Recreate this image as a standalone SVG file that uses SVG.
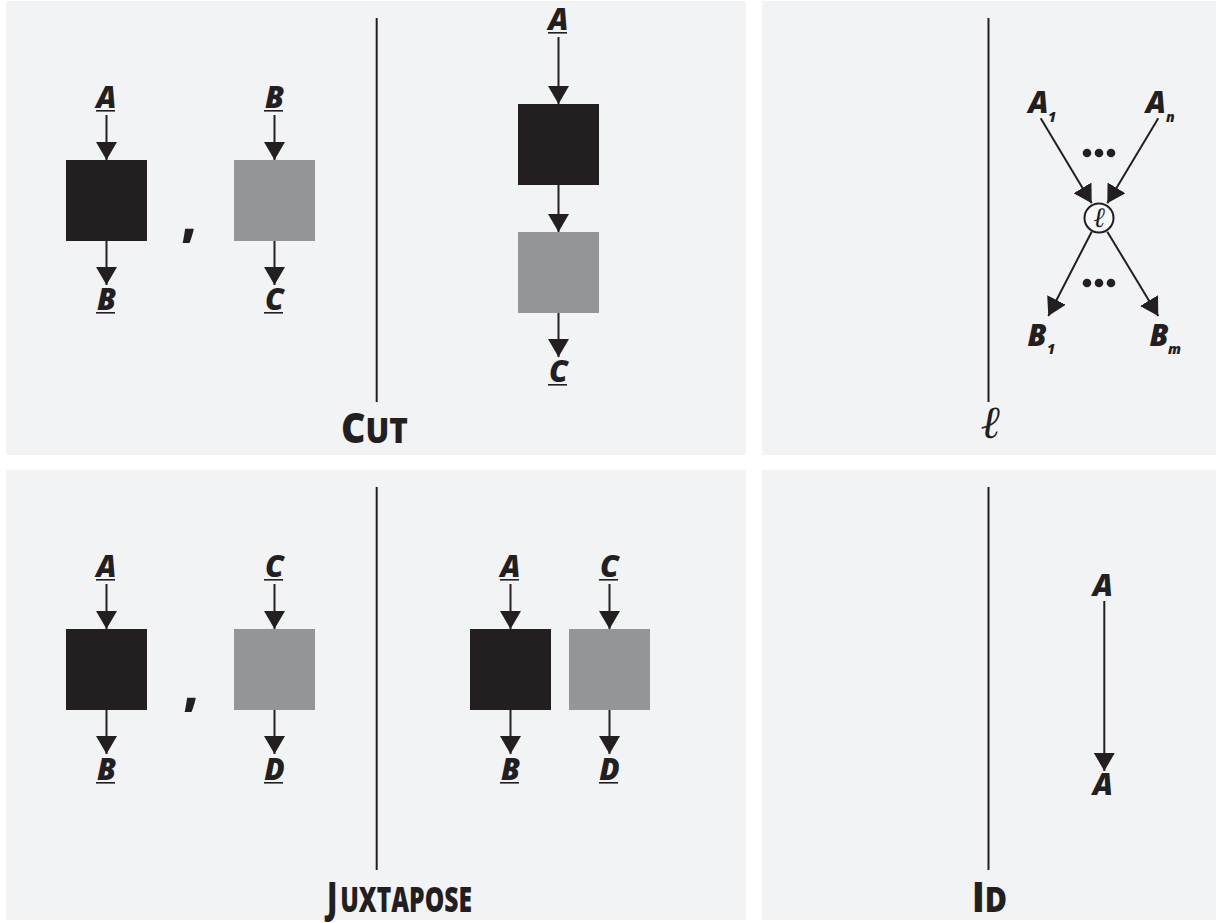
<svg xmlns="http://www.w3.org/2000/svg" width="1219" height="923" viewBox="0 0 1219 923">
  <style>
    .panel { fill: #f2f3f5; }
    .blk { fill: #231f20; }
    .gry { fill: #939598; }
    .wire { stroke: #231f20; stroke-width: 2; fill: none; }
    .rule { stroke: #231f20; stroke-width: 2; }
    .lbl { font-family: "Open Sans", "Liberation Sans", sans-serif; font-weight: 800; font-style: italic; font-size: 30px; fill: #231f20; text-anchor: middle; }
    .sub { font-family: "Open Sans", "Liberation Sans", sans-serif; font-weight: 800; font-style: italic; font-size: 14px; fill: #231f20; }
    .ttl { font-family: "Open Sans", "Liberation Sans", sans-serif; font-weight: 800; fill: #231f20; }
    .comma { font-family: "Open Sans", "Liberation Sans", sans-serif; font-weight: 800; font-size: 50px; fill: #231f20; text-anchor: middle; }
    .ell { font-family: "DejaVu Serif", "Liberation Serif", serif; font-style: italic; fill: #231f20; text-anchor: middle; }
  </style>
  <defs>
    <marker id="head" markerUnits="userSpaceOnUse" markerWidth="18" markerHeight="21" refX="18" refY="10.5" orient="auto" viewBox="0 0 18 21">
      <path d="M0,0 L18,10.5 L0,21 Z" fill="#231f20"/>
    </marker>
  </defs>

  <rect width="1219" height="923" fill="#ffffff"/>

  <!-- panel backgrounds -->
  <g id="panels">
    <rect class="panel" x="6" y="1" width="740" height="454"/>
    <rect class="panel" x="762" y="1" width="454" height="454"/>
    <rect class="panel" x="6" y="470" width="740" height="450"/>
    <rect class="panel" x="762" y="470" width="454" height="450"/>
  </g>

  <!-- dividing rules -->
  <g id="rules">
    <line class="rule" x1="376.7" y1="18" x2="376.7" y2="402"/>
    <line class="rule" x1="988.5" y1="18" x2="988.5" y2="402"/>
    <line class="rule" x1="376.7" y1="487" x2="376.7" y2="870"/>
    <line class="rule" x1="988.5" y1="487" x2="988.5" y2="870"/>
  </g>

  <!-- Cut: left side -->
  <g id="cut-f">
    <rect class="blk" x="66" y="160" width="81" height="81"/>
  </g>
  <g id="cut-g">
    <rect class="gry" x="234" y="160" width="81" height="81"/>
  </g>
  <g id="cut-comma"><text class="comma" x="189" y="236">,</text></g>

  <!-- Cut: composed -->
  <g id="cut-fg-f">
    <rect class="blk" x="518" y="104" width="81" height="81"/>
  </g>
  <g id="cut-fg-g">
    <rect class="gry" x="518" y="232" width="81" height="81"/>
  </g>

  <!-- Juxtapose: left side -->
  <g id="jux-f">
    <rect class="blk" x="66" y="629" width="81" height="81"/>
  </g>
  <g id="jux-g">
    <rect class="gry" x="234" y="629" width="81" height="81"/>
  </g>
  <g id="jux-comma"><text class="comma" x="191" y="705">,</text></g>

  <!-- Juxtapose: side by side -->
  <g id="jux-fg-f">
    <rect class="blk" x="470" y="629" width="81" height="81"/>
  </g>
  <g id="jux-fg-g">
    <rect class="gry" x="569" y="629" width="81" height="81"/>
  </g>

  <!-- link node -->
  <g id="link">
    <circle cx="1099" cy="218" r="14.5" fill="#f7f8f9" stroke="#231f20" stroke-width="2"/>
    <text class="ell" x="1099" y="227" font-size="28" fill="#555555">ℓ</text>
  </g>

  <!-- connectors -->
  <g id="connectors" marker-end="url(#head)">
    <!-- cut left -->
    <line class="wire" x1="106.5" y1="115" x2="106.5" y2="160"/>
    <line class="wire" x1="106.5" y1="241" x2="106.5" y2="285"/>
    <line class="wire" x1="274.5" y1="115" x2="274.5" y2="160"/>
    <line class="wire" x1="274.5" y1="241" x2="274.5" y2="285"/>
    <!-- cut composed -->
    <line class="wire" x1="558.5" y1="37" x2="558.5" y2="104"/>
    <line class="wire" x1="558.5" y1="185" x2="558.5" y2="232"/>
    <line class="wire" x1="558.5" y1="313" x2="558.5" y2="357"/>
    <!-- juxtapose left -->
    <line class="wire" x1="106.5" y1="584" x2="106.5" y2="629"/>
    <line class="wire" x1="106.5" y1="710" x2="106.5" y2="754"/>
    <line class="wire" x1="274.5" y1="584" x2="274.5" y2="629"/>
    <line class="wire" x1="274.5" y1="710" x2="274.5" y2="754"/>
    <!-- juxtapose right -->
    <line class="wire" x1="510.5" y1="584" x2="510.5" y2="629"/>
    <line class="wire" x1="510.5" y1="710" x2="510.5" y2="754"/>
    <line class="wire" x1="609.5" y1="584" x2="609.5" y2="629"/>
    <line class="wire" x1="609.5" y1="710" x2="609.5" y2="754"/>
    <!-- link -->
    <line class="wire" x1="1040.7" y1="118.3" x2="1091.7" y2="203.3"/>
    <line class="wire" x1="1158.3" y1="118.3" x2="1107.3" y2="203.3"/>
    <line class="wire" x1="1091.7" y1="231.7" x2="1048.3" y2="316"/>
    <line class="wire" x1="1107.3" y1="231.7" x2="1158.3" y2="316"/>
    <!-- identity -->
    <line class="wire" x1="1104.3" y1="601" x2="1104.3" y2="771"/>
  </g>

  <!-- labels -->
  <g id="labels">
    <!-- cut left -->
    <text class="lbl" x="106.5" y="108">A</text>
    <rect class="blk" x="96" y="110" width="19" height="1.6"/>
    <text class="lbl" x="106.5" y="310">B</text>
    <rect class="blk" x="96" y="312" width="19" height="1.6"/>
    <text class="lbl" x="274.5" y="108">B</text>
    <rect class="blk" x="264" y="110" width="19" height="1.6"/>
    <text class="lbl" x="274.5" y="310">C</text>
    <rect class="blk" x="264" y="312" width="19" height="1.6"/>
    <!-- cut composed -->
    <text class="lbl" x="558.5" y="30">A</text>
    <rect class="blk" x="548" y="32" width="19" height="1.6"/>
    <text class="lbl" x="558.5" y="382">C</text>
    <rect class="blk" x="548" y="384" width="19" height="1.6"/>
    <!-- juxtapose left -->
    <text class="lbl" x="106.5" y="577">A</text>
    <rect class="blk" x="96" y="579" width="19" height="1.6"/>
    <text class="lbl" x="106.5" y="780">B</text>
    <rect class="blk" x="96" y="782" width="19" height="1.6"/>
    <text class="lbl" x="274.5" y="577">C</text>
    <rect class="blk" x="264" y="579" width="19" height="1.6"/>
    <text class="lbl" x="274.5" y="780">D</text>
    <rect class="blk" x="264" y="782" width="19" height="1.6"/>
    <!-- juxtapose right -->
    <text class="lbl" x="510.5" y="577">A</text>
    <rect class="blk" x="500" y="579" width="19" height="1.6"/>
    <text class="lbl" x="510.5" y="780">B</text>
    <rect class="blk" x="500" y="782" width="19" height="1.6"/>
    <text class="lbl" x="609.5" y="577">C</text>
    <rect class="blk" x="599" y="579" width="19" height="1.6"/>
    <text class="lbl" x="609.5" y="780">D</text>
    <rect class="blk" x="599" y="782" width="19" height="1.6"/>
    <!-- link -->
    <text class="lbl" x="1038.5" y="113">A</text>
    <text class="sub" x="1048" y="122">1</text>
    <text class="lbl" x="1156" y="113">A</text>
    <text class="sub" x="1166" y="122">n</text>
    <text class="lbl" x="1037" y="346">B</text>
    <text class="sub" x="1047" y="354">1</text>
    <text class="lbl" x="1159" y="346">B</text>
    <text class="sub" x="1168" y="354">m</text>
    <g fill="#231f20">
      <circle cx="1087" cy="153" r="4.3"/>
      <circle cx="1099" cy="153" r="4.3"/>
      <circle cx="1111" cy="153" r="4.3"/>
      <circle cx="1087" cy="283" r="4.3"/>
      <circle cx="1099" cy="283" r="4.3"/>
      <circle cx="1111" cy="283" r="4.3"/>
    </g>
    <text class="ell" x="990" y="438" font-size="46">ℓ</text>
    <!-- identity -->
    <text class="lbl" x="1103" y="596">A</text>
    <text class="lbl" x="1103" y="795">A</text>
  </g>

  <!-- panel titles -->
  <g id="titles">
    <text class="ttl" x="341" y="443" textLength="67" lengthAdjust="spacingAndGlyphs"><tspan font-size="42">C</tspan><tspan font-size="35">UT</tspan></text>
    <text class="ttl" x="327" y="912" textLength="145" lengthAdjust="spacingAndGlyphs"><tspan font-size="42">J</tspan><tspan font-size="35" dx="4">UXTAPOSE</tspan></text>
    <text class="ttl" x="972" y="912" textLength="35" lengthAdjust="spacingAndGlyphs"><tspan font-size="42">I</tspan><tspan font-size="35">D</tspan></text>
  </g>
</svg>
